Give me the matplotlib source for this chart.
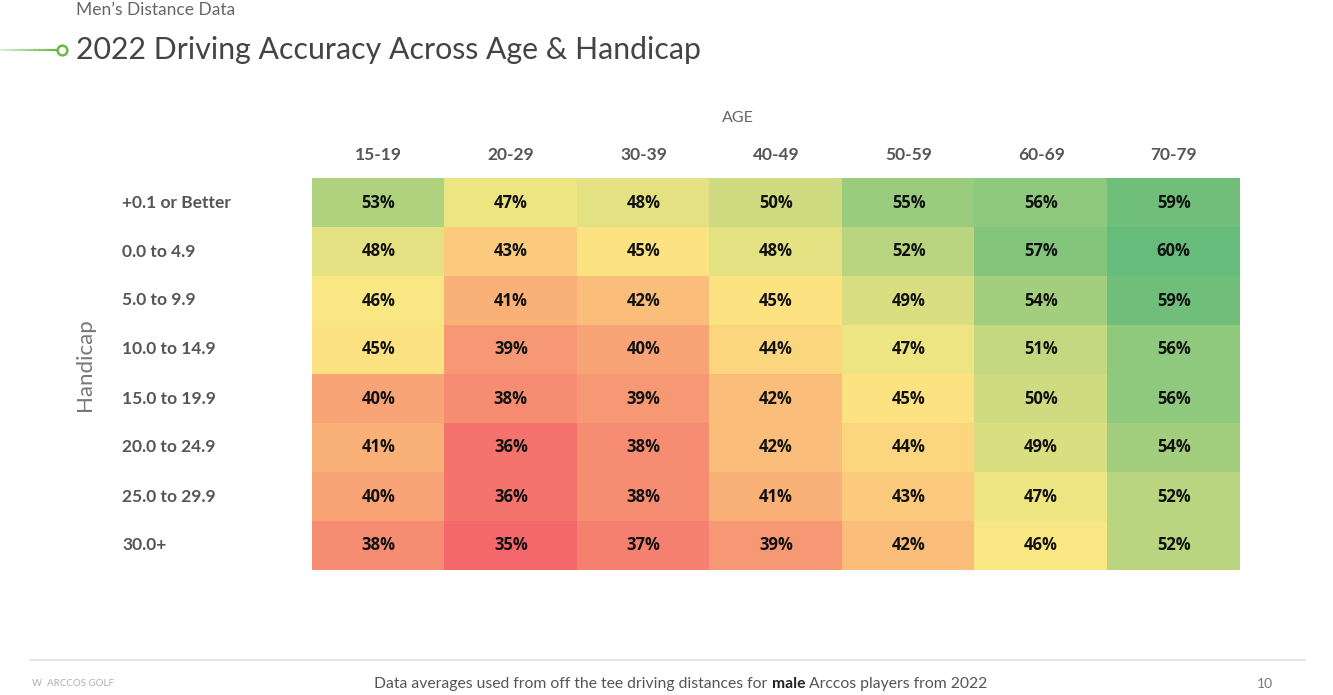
import numpy as np
import matplotlib
matplotlib.use("Agg")
import matplotlib.pyplot as plt
from matplotlib.colors import LinearSegmentedColormap, TwoSlopeNorm

# ---------------------------
# data
# ---------------------------
ages = ["15-19", "20-29", "30-39", "40-49", "50-59", "60-69", "70-79"]
handicaps = ["+0.1 or Better", "0.0 to 4.9", "5.0 to 9.9", "10.0 to 14.9",
             "15.0 to 19.9", "20.0 to 24.9", "25.0 to 29.9", "30.0+"]

acc_15_19 = [53, 48, 46, 45, 40, 41, 40, 38]
acc_20_29 = [47, 43, 41, 39, 38, 36, 36, 35]
acc_30_39 = [48, 45, 42, 40, 39, 38, 38, 37]
acc_40_49 = [50, 48, 45, 44, 42, 42, 41, 39]
acc_50_59 = [55, 52, 49, 47, 45, 44, 43, 42]
acc_60_69 = [56, 57, 54, 51, 50, 49, 47, 46]
acc_70_79 = [59, 60, 59, 56, 56, 54, 52, 52]

vals = np.array([acc_15_19, acc_20_29, acc_30_39, acc_40_49,
                 acc_50_59, acc_60_69, acc_70_79]).T

W, H = 1333, 695
fig = plt.figure(figsize=(W / 100, H / 100), dpi=100)
fig.patch.set_facecolor("white")

# excel style red-yellow-green scale, a bit washed out like the slide
cmap = LinearSegmentedColormap.from_list(
    "ryg", ["#f4686b", "#fee983", "#66bd7b"])
norm = TwoSlopeNorm(vmin=35, vcenter=45.5, vmax=60)

def px(x0, y0, x1, y1):
    return [x0 / W, 1 - y1 / H, (x1 - x0) / W, (y1 - y0) / H]

ax = fig.add_axes(px(312, 178, 1240, 570))
ax.imshow(vals, cmap=cmap, norm=norm, aspect="auto", interpolation="nearest")
for i in range(len(handicaps)):
    for j in range(len(ages)):
        ax.text(j, i, f"{vals[i, j]}%", ha="center", va="center",
                fontsize=12, fontweight="bold", color="#111111",
                family="Open Sans")
ax.set_xticks([])
ax.set_yticks([])
for s in ax.spines.values():
    s.set_visible(False)

# column headers
for j, a in enumerate(ages):
    fig.text((312 + 132.6 * (j + 0.5)) / W, 1 - 155 / H, a, ha="center",
             va="center", fontsize=12.5, fontweight="bold", color="#555555",
             family="Lato")
fig.text(738 / W, 1 - 118 / H, "AGE", ha="center", va="center",
         fontsize=11.5, color="#666666", family="Lato")

# row headers
for i, h in enumerate(handicaps):
    fig.text(122 / W, 1 - (178 + 49 * (i + 0.5)) / H, h, ha="left",
             va="center", fontsize=12.5, fontweight="bold", color="#555555",
             family="Lato")
fig.text(85 / W, 1 - 365 / H, "Handicap", ha="center", va="center",
         rotation=90, fontsize=16, color="#777777", family="Lato")

# titles
fig.text(76 / W, 1 - 10 / H, "Men\u2019s Distance Data", ha="left",
         va="center", fontsize=12.5, color="#666666", family="Lato")
fig.text(76 / W, 1 - 50 / H, "2022 Driving Accuracy Across Age & Handicap",
         ha="left", va="center", fontsize=21.8, color="#444444", family="Lato")
# green line fading in from the left edge
for k in range(12):
    x0, x1 = k * 57 / 12, (k + 1) * 57 / 12
    fig.add_artist(plt.Line2D([x0 / W, x1 / W], [1 - 50 / H, 1 - 50 / H],
                              color="#6db84a", alpha=0.25 + 0.75 * k / 11,
                              lw=1.6, solid_capstyle="butt"))
fig.add_artist(plt.Line2D([62 / W], [1 - 50 / H], marker="o", ms=7,
                          mfc="white", mec="#6db84a", mew=1.8))

# footer
fig.add_artist(plt.Line2D([30 / W, 1305 / W], [1 - 660 / H, 1 - 660 / H],
                          color="#dde1e4", lw=1.2))
fig.text(32 / W, 1 - 684 / H, "W  ARCCOS GOLF", ha="left", va="center",
         fontsize=7, color="#aab0b5", family="Lato")

parts = [("Data averages used from off the tee driving distances for ", "normal"),
         ("male", "bold"),
         (" Arccos players from 2022", "normal")]
renderer = fig.canvas.get_renderer()
widths = []
for s, w in parts:
    t = fig.text(0, 0, s, fontsize=11.3, fontweight=w, family="Lato")
    widths.append(t.get_window_extent(renderer).width)
    t.remove()
x = 681 - sum(widths) / 2
for (s, w), wd in zip(parts, widths):
    fig.text(x / W, 1 - 684 / H, s, ha="left", va="center", fontsize=11.3,
             fontweight=w, color="#555555" if w == "normal" else "#222222",
             family="Lato")
    x += wd

fig.text(1265 / W, 1 - 684 / H, "10", ha="center", va="center",
         fontsize=10, color="#777777", family="Lato")

fig.savefig("out.png", dpi=100)
